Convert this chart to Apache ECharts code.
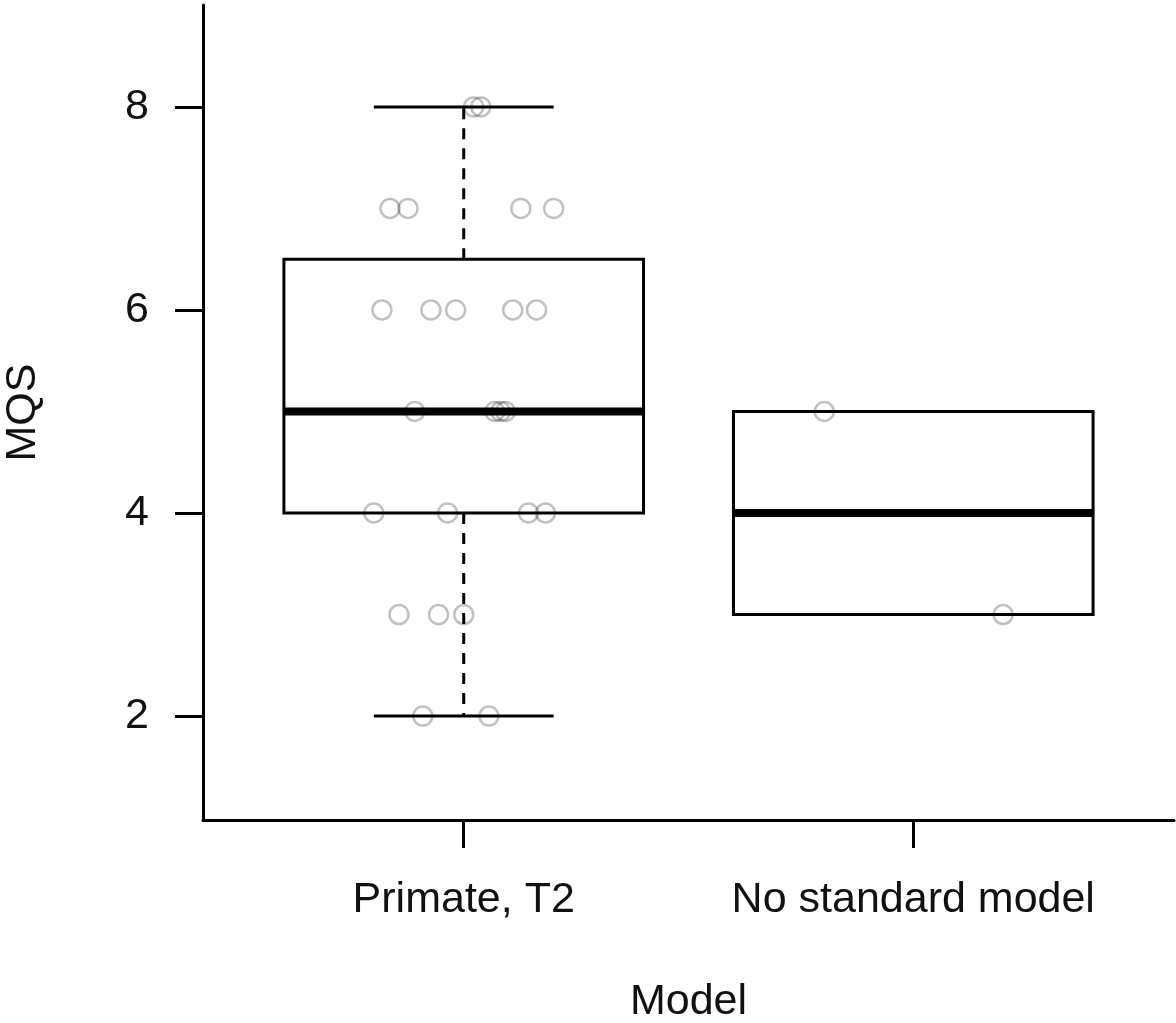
<!DOCTYPE html>
<html>
<head>
<meta charset="utf-8">
<script src="https://cdn.jsdelivr.net/npm/echarts@6/dist/echarts.min.js"></script>
<style>html,body{margin:0;padding:0;background:#fff;}#c{width:1176px;height:1023px;}</style>
</head>
<body>
<div id="c"></div>
<script>
// ---- data ----
var categories = ['Primate, T2', 'No standard model'];
var boxQ1 = [4, 3];
var boxMedian = [5, 4];
var boxQ3 = [6.5, 5];
var whiskerLow = [2, 3];
var whiskerHigh = [8, 5];
var yTicks = [2, 4, 6, 8];
// jittered points (x position in category units, y value)
var pointsX = [1.022, 1.038,
               0.836, 0.876, 1.127, 1.200,
               0.818, 0.927, 0.982, 1.109, 1.162,
               0.891, 1.069, 1.082, 1.093,
               0.800, 0.964, 1.144, 1.182,
               0.856, 0.944, 1.000,
               0.909, 1.056,
               1.802, 2.200];
var pointsY = [8, 8,
               7, 7, 7, 7,
               6, 6, 6, 6, 6,
               5, 5, 5, 5,
               4, 4, 4, 4,
               3, 3, 3,
               2, 2,
               5, 3];

var boxData = categories.map(function (c, i) {
  return [i + 1, boxQ1[i], boxMedian[i], boxQ3[i], whiskerLow[i], whiskerHigh[i]];
});
var pointData = pointsX.map(function (x, i) { return [x, pointsY[i]]; });

var FONT = 'Liberation Sans, Arial, sans-serif';
var BOX_HALF = 0.4, STAPLE_HALF = 0.2;

function renderBox(params, api) {
  var x = api.value(0), q1 = api.value(1), med = api.value(2), q3 = api.value(3),
      lo = api.value(4), hi = api.value(5);
  var pL = api.coord([x - BOX_HALF, q3]);
  var pR = api.coord([x + BOX_HALF, q1]);
  var pMedL = api.coord([x - BOX_HALF, med]);
  var pMedR = api.coord([x + BOX_HALF, med]);
  var pc = api.coord([x, 0]);
  var yQ1 = api.coord([x, q1])[1], yQ3 = api.coord([x, q3])[1];
  var yLo = api.coord([x, lo])[1], yHi = api.coord([x, hi])[1];
  var sL = api.coord([x - STAPLE_HALF, lo])[0], sR = api.coord([x + STAPLE_HALF, lo])[0];
  var lineStyle = { stroke: '#000', lineWidth: 3, fill: null };
  var dashStyle = { stroke: '#000', lineWidth: 3, lineDash: [11, 9], fill: null };
  var children = [];
  if (hi > q3) {
    children.push({ type: 'line', shape: { x1: pc[0], y1: yQ3, x2: pc[0], y2: yHi }, style: dashStyle });
  }
  if (lo < q1) {
    children.push({ type: 'line', shape: { x1: pc[0], y1: yQ1, x2: pc[0], y2: yLo }, style: dashStyle });
  }
  children.push({ type: 'line', shape: { x1: sL, y1: yHi, x2: sR, y2: yHi }, style: lineStyle });
  children.push({ type: 'line', shape: { x1: sL, y1: yLo, x2: sR, y2: yLo }, style: lineStyle });
  children.push({ type: 'rect', shape: { x: pL[0], y: pL[1], width: pR[0] - pL[0], height: pR[1] - pL[1] },
                  style: { stroke: '#000', lineWidth: 3, fill: 'rgba(0,0,0,0)' } });
  children.push({ type: 'line', shape: { x1: pMedL[0], y1: pMedL[1], x2: pMedR[0], y2: pMedR[1] },
                  style: { stroke: '#000', lineWidth: 8 } });
  return { type: 'group', children: children };
}

var chart = echarts.init(document.getElementById('c'), null, { renderer: 'canvas' });
chart.setOption({
  backgroundColor: '#fff',
  animation: false,
  textStyle: { fontFamily: FONT },
  grid: { left: 203, right: 2, top: 5, bottom: 203, containLabel: false, outerBoundsMode: 'none' },
  xAxis: {
    type: 'value', min: 0.42, max: 2.58,
    name: 'Model', nameLocation: 'middle', nameGap: 161,
    nameTextStyle: { fontSize: 43, color: '#111', fontFamily: FONT },
    splitLine: { show: false },
    axisLine: { show: true, onZero: false, lineStyle: { color: '#000', width: 3 } },
    axisTick: { show: true, length: 28, lineStyle: { color: '#000', width: 3 }, customValues: [1, 2] },
    axisLabel: { show: true, fontSize: 43, color: '#111', margin: 59, fontFamily: FONT,
      customValues: [1, 2],
      formatter: function (v) { return categories[Math.round(v) - 1] || ''; } }
  },
  yAxis: {
    type: 'value', min: 0.976, max: 9.004,
    name: 'MQS', nameLocation: 'middle', nameGap: 158,
    nameTextStyle: { fontSize: 43, color: '#111', fontFamily: FONT },
    splitLine: { show: false },
    axisLine: { show: true, onZero: false, lineStyle: { color: '#000', width: 3 } },
    axisTick: { show: true, length: 28, lineStyle: { color: '#000', width: 3 }, customValues: yTicks },
    axisLabel: { show: true, fontSize: 43, color: '#111', margin: 54, fontFamily: FONT,
      customValues: yTicks }
  },
  series: [
    {
      type: 'custom', name: 'box', renderItem: renderBox, data: boxData, z: 2,
      encode: { x: 0, y: [1, 2, 3, 4, 5] }, clip: false
    },
    {
      type: 'scatter', name: 'points', data: pointData, z: 3,
      symbol: 'circle', symbolSize: 19,
      itemStyle: { color: 'rgba(0,0,0,0)', borderColor: 'rgba(0,0,0,0.3)', borderWidth: 2.5 }
    }
  ]
});
</script>
</body>
</html>
